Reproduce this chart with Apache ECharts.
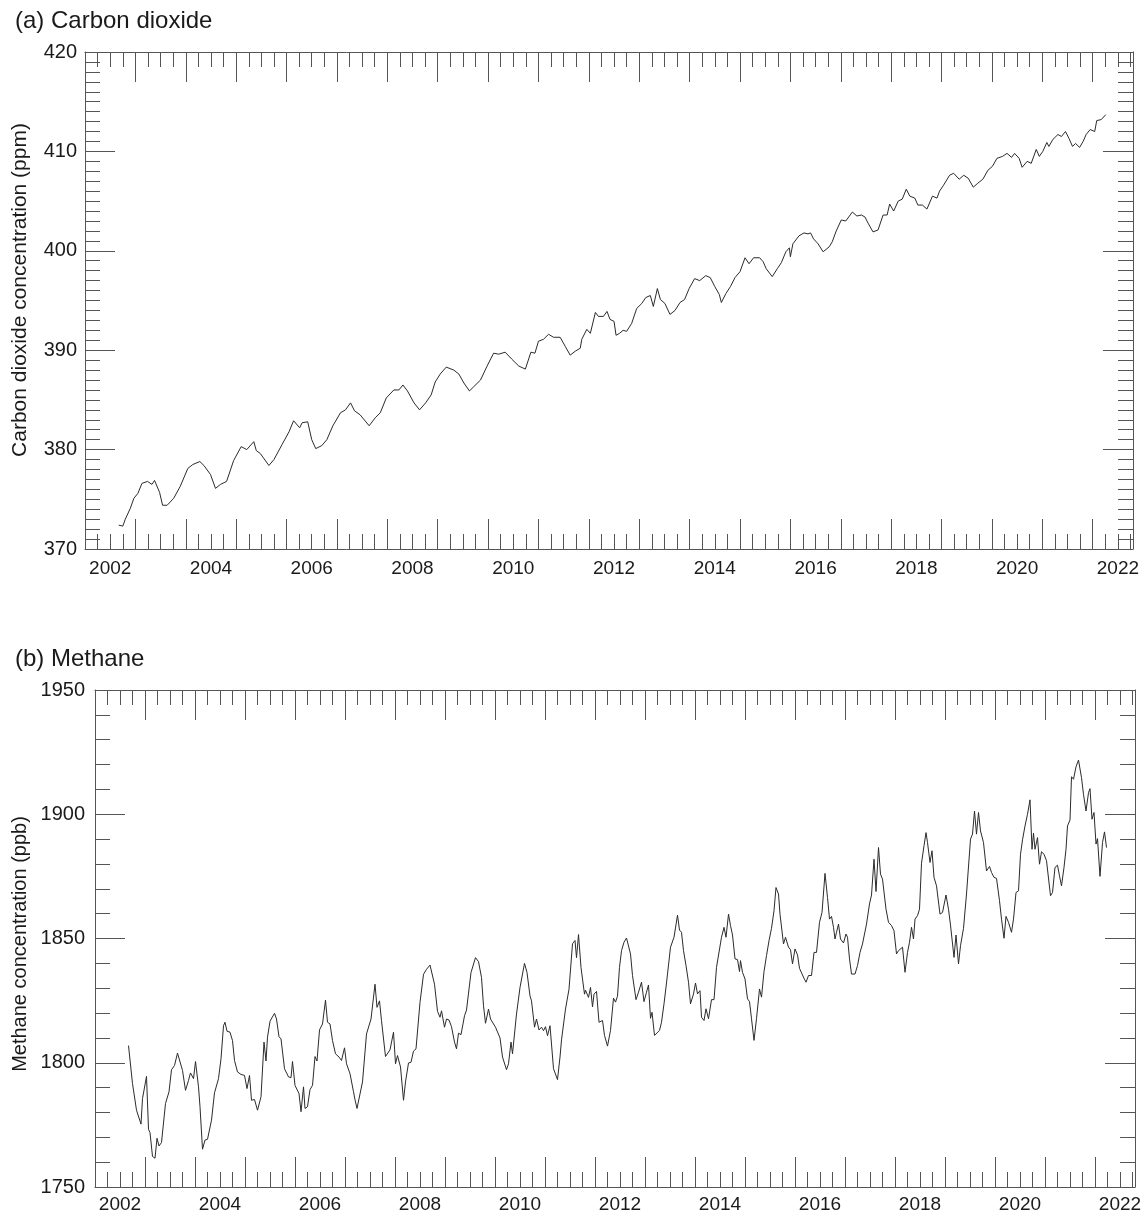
<!DOCTYPE html>
<html>
<head>
<meta charset="utf-8">
<script src="https://cdn.jsdelivr.net/npm/echarts@6/dist/echarts.min.js"></script>
<style>
  html, body { margin: 0; padding: 0; background: #fff; }
  #chart { width: 1146px; height: 1213px; }
</style>
</head>
<body>
<div id="chart"></div>
<script>
// ---------------- data ----------------
const xLabelYears = [2002, 2004, 2006, 2008, 2010, 2012, 2014, 2016, 2018, 2020, 2022];
const titleA = '(a) Carbon dioxide';
const titleB = '(b) Methane';
const yNameA = 'Carbon dioxide concentration (ppm)';
const yNameB = 'Methane concentration (ppb)';

// [decimal year, ppm]
const co2Data = [
[2002.17,372.4],[2002.25,372.3],[2002.30,373.0],[2002.40,374.1],[2002.47,375.1],[2002.55,375.6],[2002.63,376.6],[2002.74,376.8],[2002.83,376.5],[2002.88,376.9],[2002.98,375.7],
[2003.04,374.4],[2003.13,374.4],[2003.26,375.1],[2003.39,376.3],[2003.54,378.1],[2003.64,378.5],[2003.78,378.8],[2003.86,378.4],[2003.99,377.5],
[2004.09,376.1],[2004.19,376.5],[2004.31,376.8],[2004.45,378.9],[2004.60,380.3],[2004.71,380.0],[2004.85,380.8],[2004.90,379.9],[2004.98,379.6],
[2005.15,378.4],[2005.25,379.0],[2005.41,380.5],[2005.55,381.8],[2005.64,382.9],[2005.76,382.2],[2005.81,382.7],[2005.92,382.8],
[2006.00,381.0],[2006.08,380.1],[2006.20,380.4],[2006.30,381.0],[2006.42,382.4],[2006.57,383.7],[2006.67,384.0],[2006.77,384.7],[2006.85,383.9],[2006.96,383.5],
[2007.14,382.4],[2007.26,383.2],[2007.36,383.7],[2007.48,385.2],[2007.63,386.0],[2007.73,386.0],[2007.81,386.5],[2007.90,385.9],
[2008.03,384.7],[2008.14,384.0],[2008.26,384.7],[2008.37,385.5],[2008.45,386.8],[2008.55,387.6],[2008.67,388.3],[2008.82,388.0],[2008.92,387.6],
[2009.02,386.7],[2009.13,385.9],[2009.21,386.3],[2009.35,387.0],[2009.48,388.4],[2009.61,389.7],[2009.71,389.6],[2009.84,389.8],[2009.97,389.1],
[2010.11,388.4],[2010.24,388.1],[2010.35,389.8],[2010.43,389.7],[2010.50,390.9],[2010.60,391.1],[2010.70,391.6],[2010.80,391.3],[2010.93,391.3],
[2011.03,390.4],[2011.13,389.5],[2011.23,389.9],[2011.33,390.2],[2011.36,391.1],[2011.46,392.1],[2011.53,391.7],[2011.63,393.8],[2011.69,393.4],[2011.79,393.4],[2011.86,393.9],
[2011.92,393.1],[2012.00,392.9],[2012.04,391.5],[2012.11,391.7],[2012.18,392.0],[2012.25,391.9],[2012.35,392.7],[2012.45,394.2],[2012.55,394.7],[2012.63,395.3],[2012.72,395.5],[2012.78,394.4],[2012.86,396.2],[2012.92,395.1],
[2013.01,394.7],[2013.11,393.6],[2013.21,394.0],[2013.31,394.8],[2013.40,395.1],[2013.49,396.2],[2013.60,397.2],[2013.70,397.0],[2013.82,397.5],[2013.91,397.3],
[2014.00,396.4],[2014.09,395.6],[2014.13,394.8],[2014.22,395.7],[2014.31,396.4],[2014.40,397.3],[2014.50,397.9],[2014.60,399.3],[2014.68,398.7],[2014.77,399.3],[2014.89,399.3],[2014.96,398.9],
[2015.02,398.2],[2015.14,397.4],[2015.24,398.2],[2015.32,398.8],[2015.41,399.9],[2015.48,400.3],[2015.50,399.4],[2015.55,400.7],[2015.67,401.5],[2015.77,401.8],[2015.85,401.7],[2015.90,401.8],[2015.96,401.2],
[2016.05,400.7],[2016.15,399.9],[2016.27,400.4],[2016.33,400.9],[2016.41,402.0],[2016.51,403.1],[2016.60,403.0],[2016.73,403.9],[2016.82,403.5],[2016.91,403.6],[2016.98,403.4],
[2017.04,402.8],[2017.14,401.9],[2017.24,402.1],[2017.34,403.6],[2017.42,403.6],[2017.47,404.7],[2017.55,404.0],[2017.64,405.0],[2017.72,405.2],[2017.80,406.2],[2017.87,405.5],[2017.97,405.3],
[2018.03,404.6],[2018.12,404.6],[2018.21,404.2],[2018.32,405.5],[2018.41,405.3],[2018.46,406.0],[2018.54,406.6],[2018.66,407.6],[2018.74,407.8],[2018.85,407.2],[2018.94,407.6],
[2019.03,407.3],[2019.13,406.4],[2019.22,406.8],[2019.32,407.2],[2019.42,408.1],[2019.51,408.5],[2019.60,409.3],[2019.71,409.5],[2019.80,409.8],[2019.89,409.4],[2019.95,409.8],
[2020.04,409.3],[2020.10,408.4],[2020.20,409.0],[2020.28,408.8],[2020.38,410.2],[2020.44,409.5],[2020.51,410.0],[2020.59,410.9],[2020.63,410.5],[2020.71,411.2],[2020.81,411.7],[2020.88,411.5],[2020.96,412.0],
[2021.03,411.3],[2021.10,410.5],[2021.16,410.8],[2021.24,410.4],[2021.31,411.0],[2021.37,411.7],[2021.45,412.2],[2021.54,412.0],[2021.58,413.1],[2021.67,413.2],[2021.76,413.7]
];

// [decimal year, ppb]
const ch4Data = [
[2002.17,1806.9],[2002.25,1791.6],[2002.29,1791.6],[2002.33,1780.9],[2002.37,1780.9],[2002.42,1775.3],[2002.45,1785.6],[2002.49,1786.0],[2002.53,1794.5],[2002.57,1773.2],[2002.60,1771.9],[2002.65,1762.3],[2002.70,1761.6],[2002.74,1769.6],[2002.78,1766.5],[2002.83,1767.9],[2002.91,1783.6],[2002.98,1788.3],
[2003.03,1797.2],[2003.09,1798.9],[2003.15,1803.9],[2003.19,1803.3],[2003.25,1796.9],[2003.31,1788.9],[2003.37,1792.9],[2003.41,1795.9],[2003.47,1793.6],[2003.51,1800.5],[2003.57,1790.3],[2003.60,1782.3],[2003.65,1765.2],[2003.70,1768.9],[2003.75,1769.2],[2003.83,1776.9],[2003.89,1787.9],[2003.97,1793.6],
[2004.02,1801.6],[2004.07,1814.9],[2004.10,1816.3],[2004.14,1812.7],[2004.20,1812.3],[2004.25,1808.9],[2004.29,1800.9],[2004.35,1796.3],[2004.42,1795.3],[2004.49,1794.9],[2004.54,1789.6],[2004.59,1794.9],[2004.63,1784.9],[2004.69,1785.2],[2004.75,1780.9],[2004.82,1786.3],[2004.88,1808.3],[2004.92,1800.7],[2004.95,1810.3],
[2005.00,1816.7],[2005.09,1819.9],[2005.13,1817.6],[2005.18,1810.5],[2005.22,1809.6],[2005.29,1797.6],[2005.37,1794.3],[2005.42,1794.0],[2005.45,1800.5],[2005.50,1790.9],[2005.58,1787.6],[2005.62,1780.3],[2005.67,1790.3],[2005.70,1781.6],[2005.75,1782.3],[2005.80,1789.2],[2005.85,1790.9],[2005.90,1802.5],[2005.94,1800.7],[2005.99,1813.2],
[2006.05,1815.6],[2006.11,1825.2],[2006.15,1816.3],[2006.20,1815.6],[2006.25,1808.9],[2006.31,1803.6],[2006.38,1802.3],[2006.43,1800.9],[2006.49,1806.0],[2006.53,1799.6],[2006.60,1795.6],[2006.67,1788.3],[2006.70,1785.1],[2006.74,1781.6],[2006.78,1782.3],[2006.85,1792.3],[2006.93,1811.6],
[2007.02,1817.6],[2007.10,1831.6],[2007.14,1822.3],[2007.19,1824.9],[2007.23,1816.9],[2007.31,1802.5],[2007.40,1805.2],[2007.47,1812.3],[2007.51,1799.6],[2007.55,1802.9],[2007.61,1798.3],[2007.67,1784.9],[2007.71,1792.3],[2007.77,1799.9],[2007.82,1800.2],[2007.87,1804.7],[2007.92,1805.6],
[2008.00,1824.3],[2008.07,1835.6],[2008.13,1837.6],[2008.20,1839.3],[2008.29,1831.6],[2008.35,1820.7],[2008.40,1818.3],[2008.43,1820.9],[2008.49,1814.3],[2008.53,1817.6],[2008.58,1817.2],[2008.63,1814.5],[2008.69,1808.3],[2008.73,1805.6],[2008.77,1811.9],[2008.82,1811.3],[2008.89,1818.9],[2008.93,1821.2],
[2009.02,1836.3],[2009.11,1842.3],[2009.17,1840.7],[2009.23,1834.3],[2009.27,1822.9],[2009.31,1815.9],[2009.37,1821.6],[2009.41,1817.6],[2009.45,1817.6],[2009.51,1814.3],[2009.60,1810.0],[2009.65,1802.3],[2009.73,1797.2],[2009.77,1799.6],[2009.82,1808.3],[2009.85,1803.6],[2009.93,1819.6],
[2010.00,1830.3],[2010.09,1840.0],[2010.14,1836.3],[2010.20,1826.9],[2010.23,1824.9],[2010.29,1814.3],[2010.33,1817.6],[2010.38,1813.2],[2010.43,1814.3],[2010.47,1812.9],[2010.51,1814.5],[2010.55,1810.9],[2010.60,1814.9],[2010.67,1797.6],[2010.70,1797.2],[2010.75,1793.2],[2010.80,1802.3],[2010.83,1809.2],[2010.91,1821.6],[2010.98,1829.6],
[2011.05,1847.9],[2011.10,1849.2],[2011.13,1842.3],[2011.17,1851.6],[2011.22,1838.3],[2011.29,1827.6],[2011.31,1829.2],[2011.37,1826.3],[2011.41,1830.3],[2011.45,1822.5],[2011.48,1827.6],[2011.53,1828.7],[2011.58,1816.3],[2011.65,1817.0],[2011.69,1811.0],[2011.75,1806.7],[2011.81,1813.0],[2011.87,1826.0],[2011.91,1824.4],[2011.95,1826.8],[2011.99,1838.4],
[2012.03,1845.1],[2012.08,1848.5],[2012.13,1850.2],[2012.17,1850.1],[2012.21,1843.8],[2012.25,1835.1],[2012.32,1825.4],[2012.37,1828.4],[2012.43,1832.4],[2012.48,1824.6],[2012.53,1828.4],[2012.57,1831.3],[2012.61,1817.9],[2012.64,1820.3],[2012.69,1811.0],[2012.73,1811.2],[2012.79,1813.0],[2012.83,1816.3],[2012.88,1823.7],[2012.93,1832.1],[2012.97,1832.7],
[2013.01,1846.5],[2013.08,1850.5],[2013.11,1851.1],[2013.15,1859.4],[2013.19,1853.4],[2013.23,1852.5],[2013.27,1845.1],[2013.32,1839.1],[2013.37,1832.4],[2013.41,1823.7],[2013.47,1827.7],[2013.51,1832.1],[2013.55,1827.7],[2013.60,1829.0],[2013.63,1818.3],[2013.68,1817.0],[2013.72,1821.7],[2013.77,1817.7],[2013.83,1825.4],[2013.88,1825.4],[2013.93,1838.4],[2013.97,1838.8],
[2014.03,1850.5],[2014.08,1854.5],[2014.12,1850.5],[2014.17,1859.8],[2014.21,1855.2],[2014.25,1851.4],[2014.30,1841.8],[2014.35,1841.5],[2014.39,1836.7],[2014.41,1841.1],[2014.45,1836.4],[2014.50,1833.7],[2014.55,1825.7],[2014.59,1824.6],[2014.63,1817.7],[2014.68,1809.0],[2014.73,1817.7],[2014.79,1829.7],[2014.83,1826.4],[2014.88,1836.7],[2014.93,1843.1],[2014.98,1849.1],
[2015.03,1854.1],[2015.08,1861.2],[2015.12,1870.5],[2015.17,1867.9],[2015.20,1859.8],[2015.23,1860.5],[2015.27,1847.8],[2015.31,1850.5],[2015.37,1846.5],[2015.41,1845.5],[2015.45,1839.8],[2015.50,1845.8],[2015.55,1843.4],[2015.59,1838.0],[2015.63,1838.4],[2015.68,1834.0],[2015.72,1832.4],[2015.77,1835.1],[2015.83,1835.1],[2015.88,1844.4],[2015.93,1844.4],[2015.99,1856.5],
[2016.04,1860.5],[2016.10,1876.2],[2016.15,1866.5],[2016.19,1857.8],[2016.23,1858.9],[2016.27,1854.5],[2016.30,1849.8],[2016.33,1852.5],[2016.37,1855.8],[2016.41,1849.8],[2016.47,1848.2],[2016.52,1851.8],[2016.55,1850.5],[2016.59,1841.8],[2016.63,1835.7],[2016.70,1835.7],[2016.75,1839.1],[2016.80,1844.4],[2016.85,1847.8],[2016.89,1847.8],[2016.93,1855.8],[2016.99,1863.9],
[2017.03,1867.5],[2017.08,1881.9],[2017.12,1868.9],[2017.17,1886.6],[2017.21,1875.9],[2017.25,1873.9],[2017.32,1861.8],[2017.37,1856.5],[2017.43,1855.2],[2017.48,1853.1],[2017.53,1843.8],[2017.57,1845.1],[2017.61,1844.7],[2017.65,1846.5],[2017.70,1836.4],[2017.75,1844.4],[2017.79,1848.5],[2017.83,1854.5],[2017.87,1849.8],[2017.90,1857.8],[2017.95,1859.2],[2017.99,1861.8],
[2018.03,1880.3],[2018.08,1887.3],[2018.12,1892.6],[2018.15,1888.6],[2018.20,1880.6],[2018.24,1885.3],[2018.28,1874.6],[2018.33,1871.2],[2018.40,1859.8],[2018.45,1860.5],[2018.52,1867.5],[2018.57,1861.8],[2018.61,1855.4],[2018.64,1855.2],[2018.68,1842.4],[2018.72,1851.4],[2018.77,1839.8],[2018.81,1847.1],[2018.87,1854.1],[2018.90,1854.1],[2018.93,1867.9],[2018.97,1868.5],
[2019.01,1890.0],[2019.05,1892.0],[2019.09,1901.3],[2019.13,1892.0],[2019.17,1900.7],[2019.21,1893.3],[2019.27,1888.6],[2019.33,1877.2],[2019.39,1879.0],[2019.43,1876.6],[2019.48,1874.6],[2019.53,1874.2],[2019.59,1865.2],[2019.63,1857.8],[2019.68,1850.1],[2019.72,1858.9],[2019.77,1856.5],[2019.83,1852.5],[2019.87,1857.8],[2019.92,1868.5],[2019.97,1869.2],
[2020.01,1883.9],[2020.05,1889.7],[2020.10,1895.3],[2020.15,1900.0],[2020.20,1905.8],[2020.24,1885.9],[2020.27,1892.4],[2020.30,1885.9],[2020.35,1890.6],[2020.39,1879.9],[2020.43,1884.9],[2020.48,1883.9],[2020.53,1881.3],[2020.57,1880.6],[2020.61,1867.2],[2020.65,1868.5],[2020.70,1878.6],[2020.75,1879.5],[2020.79,1875.2],[2020.83,1871.2],[2020.88,1878.6],[2020.92,1885.9],[2020.95,1895.3],
[2021.00,1897.7],[2021.03,1915.1],[2021.07,1914.1],[2021.12,1919.1],[2021.17,1921.8],[2021.20,1921.8],[2021.23,1914.7],[2021.27,1908.0],[2021.32,1901.3],[2021.37,1908.7],[2021.40,1910.3],[2021.44,1898.0],[2021.48,1900.7],[2021.52,1888.0],[2021.55,1890.2],[2021.60,1875.0],[2021.65,1888.6],[2021.69,1892.9],[2021.73,1886.6]
];

// ---------------- chart ----------------
const FONT = '"Liberation Sans", Arial, sans-serif';
const AXIS_COLOR = '#555';
const TEXT_COLOR = '#1a1a1a';
const X_MIN = 2001.5, X_MAX = 2022.3;

function labelFmt(v) {
  const r = Math.round(v);
  return (Math.abs(v - r) < 1e-6 && xLabelYears.indexOf(r) >= 0) ? String(r) : '';
}

function xAxesFor(gi, labelMargin) {
  const common = {
    gridIndex: gi, type: 'value', splitLine: { show: false },
    axisLine: { show: true, onZero: false, lineStyle: { color: AXIS_COLOR, width: 1 } },
  };
  return [
    // bottom: quarter-year ticks + labels
    Object.assign({}, common, {
      position: 'bottom', min: X_MIN, max: X_MAX, interval: 0.25,
      axisTick: { show: true, inside: true, length: 15, lineStyle: { color: AXIS_COLOR } },
      axisLabel: { show: true, formatter: labelFmt, margin: labelMargin, fontSize: 19, color: TEXT_COLOR, fontFamily: FONT }
    }),
    // bottom: long ticks at mid-year (shifted scale, same span)
    Object.assign({}, common, {
      position: 'bottom', min: X_MIN - 0.5, max: X_MAX - 0.5, interval: 1,
      axisLine: { show: false, onZero: false },
      axisTick: { show: true, inside: true, length: 30, lineStyle: { color: AXIS_COLOR } },
      axisLabel: { show: false }
    }),
    // top: quarter-year ticks
    Object.assign({}, common, {
      position: 'top', min: X_MIN, max: X_MAX, interval: 0.25,
      axisTick: { show: true, inside: true, length: 15, lineStyle: { color: AXIS_COLOR } },
      axisLabel: { show: false }
    }),
    // top: long ticks
    Object.assign({}, common, {
      position: 'top', min: X_MIN - 0.5, max: X_MAX - 0.5, interval: 1,
      axisLine: { show: false, onZero: false },
      axisTick: { show: true, inside: true, length: 30, lineStyle: { color: AXIS_COLOR } },
      axisLabel: { show: false }
    })
  ];
}

function yAxesFor(gi, min, max, interval, minorSplit, labelMargin) {
  const common = {
    gridIndex: gi, type: 'value', min: min, max: max, interval: interval,
    splitLine: { show: false }, minorSplitLine: { show: false },
    axisLine: { show: true, onZero: false, lineStyle: { color: AXIS_COLOR, width: 1 } },
    axisTick: { show: true, inside: true, length: 30, lineStyle: { color: AXIS_COLOR } },
    minorTick: { show: true, splitNumber: minorSplit, length: 15, lineStyle: { color: AXIS_COLOR } }
  };
  return [
    Object.assign({}, common, {
      position: 'left',
      axisLabel: { show: true, margin: labelMargin, fontSize: 20, color: TEXT_COLOR, fontFamily: FONT,
                   formatter: function (v) { return String(v); } }
    }),
    Object.assign({}, common, { position: 'right', axisLabel: { show: false } })
  ];
}

const chart = echarts.init(document.getElementById('chart'), null, { renderer: 'canvas' });

const option = {
  animation: false,
  backgroundColor: '#ffffff',
  grid: [
    { left: 85, top: 52, width: 1048, height: 497, outerBoundsMode: 'none', containLabel: false },
    { left: 95, top: 690, width: 1040, height: 497, outerBoundsMode: 'none', containLabel: false }
  ],
  xAxis: [].concat(xAxesFor(0, 10), xAxesFor(1, 8)),
  yAxis: [].concat(yAxesFor(0, 370, 420, 10, 10, 8), yAxesFor(1, 1750, 1950, 50, 5, 10)),
  title: [
    { text: titleA, left: 10, top: 4, textStyle: { fontSize: 24, fontWeight: 'normal', color: TEXT_COLOR, fontFamily: FONT } },
    { text: titleB, left: 10, top: 642, textStyle: { fontSize: 24, fontWeight: 'normal', color: TEXT_COLOR, fontFamily: FONT } }
  ],
  graphic: [
    { type: 'text', x: 20, y: 290, rotation: Math.PI / 2, silent: true,
      style: { text: yNameA, fontSize: 21, fontFamily: FONT, fill: TEXT_COLOR, align: 'center', verticalAlign: 'middle' } },
    { type: 'text', x: 20, y: 944, rotation: Math.PI / 2, silent: true,
      style: { text: yNameB, fontSize: 20, fontFamily: FONT, fill: TEXT_COLOR, align: 'center', verticalAlign: 'middle' } }
  ],
  series: [
    { type: 'line', name: 'CO2', xAxisIndex: 0, yAxisIndex: 0, data: co2Data, showSymbol: false, symbol: 'none',
      lineStyle: { color: '#2b2b2b', width: 1 }, silent: true },
    { type: 'line', name: 'CH4', xAxisIndex: 4, yAxisIndex: 2, data: ch4Data, showSymbol: false, symbol: 'none',
      lineStyle: { color: '#2b2b2b', width: 1 }, silent: true }
  ]
};
chart.setOption(option);
</script>
</body>
</html>
